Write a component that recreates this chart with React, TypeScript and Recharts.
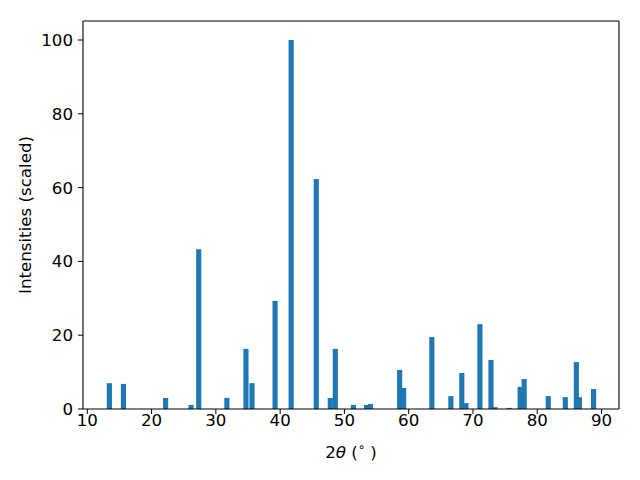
import React from 'react';
import { BarChart, Bar, XAxis, YAxis, ReferenceLine } from 'recharts';

// peak positions (2theta, degrees) and scaled intensities
const twoTheta = [
  13.47, 15.66, 22.22, 26.18, 27.37, 31.75, 34.72, 35.66, 39.25, 41.75, 45.66,
  47.84, 48.62, 51.44, 53.47, 54.09, 58.63, 59.25, 63.64, 66.6, 68.3, 68.94,
  71.12, 72.84, 73.47, 75.66, 77.38, 78.0, 81.75, 84.4, 86.12, 86.6, 88.8,
];
const intensity = [
  7.0, 6.8, 3.0, 1.1, 43.3, 3.0, 16.3, 7.0, 29.3, 100, 62.3,
  3.0, 16.3, 1.1, 1.1, 1.35, 10.6, 5.7, 19.5, 3.5, 9.75, 1.6,
  23.0, 13.3, 0.5, 0.3, 6.0, 8.1, 3.5, 3.2, 12.7, 3.2, 5.4,
];
const xTicks = [10, 20, 30, 40, 50, 60, 70, 80, 90];
const yTicks = [0, 20, 40, 60, 80, 100];

const X_DOMAIN: [number, number] = [9.33, 92.72];
const Y_DOMAIN: [number, number] = [0, 105.15];
const PLOT_W = 536;
const BAR_UNITS = 0.8;
const BAR_PX = (BAR_UNITS * PLOT_W) / (X_DOMAIN[1] - X_DOMAIN[0]);

const FONT = '"DejaVu Sans", sans-serif';
const FS = 16.67;

const data = twoTheta.map((t, i) => ({ theta: t, value: intensity[i] }));

// keep matplotlib's fixed bar width (0.8 in data units), centred on the peak
const PeakBar = (props: any) => {
  const { x, y, width, height, fill } = props;
  if (height == null || height <= 0) return null;
  const cx = x + width / 2;
  return <rect x={cx - BAR_PX / 2} y={y} width={BAR_PX} height={height} fill={fill} />;
};

const XTitle = () => (
  <text x={351} y={458} textAnchor="middle" fontFamily={FONT} fontSize={FS} fill="#000">
    <tspan>2</tspan>
    <tspan fontStyle="italic">θ</tspan>
    <tspan> (</tspan>
    <tspan fontSize={FS * 0.7} dy={-7}>∘</tspan>
    <tspan dy={7}> )</tspan>
  </text>
);

const YTitle = () => (
  <text
    x={0}
    y={0}
    transform="translate(31, 215) rotate(-90)"
    textAnchor="middle"
    fontFamily={FONT}
    fontSize={FS}
    fill="#000"
  >
    Intensities (scaled)
  </text>
);

const tickStyle = { fill: '#000', fontSize: FS, fontFamily: FONT };

export default function App() {
  return (
    <div style={{ position: 'absolute', left: 0, top: 0, width: 640, height: 480, background: '#fff' }}>
      <BarChart width={640} height={480} data={data} margin={{ top: 21, right: 21, bottom: 0, left: 0 }}>
        <XAxis
          dataKey="theta"
          type="number"
          domain={X_DOMAIN}
          allowDataOverflow
          ticks={xTicks}
          interval={0}
          height={71}
          tick={tickStyle}
          tickSize={5}
          tickMargin={0}
          stroke="#000"
          axisLine={{ stroke: '#000', strokeWidth: 1.1 }}
          tickLine={{ stroke: '#000', strokeWidth: 1 }}
          label={<XTitle />}
        />
        <YAxis
          type="number"
          domain={Y_DOMAIN}
          allowDataOverflow
          ticks={yTicks}
          interval={0}
          width={83}
          tick={tickStyle}
          tickSize={5}
          tickMargin={5}
          stroke="#000"
          axisLine={{ stroke: '#000', strokeWidth: 1.1 }}
          tickLine={{ stroke: '#000', strokeWidth: 1 }}
          label={<YTitle />}
        />
        <Bar dataKey="value" fill="#1f77b4" shape={<PeakBar />} isAnimationActive={false} />
        {/* top and right spines */}
        <ReferenceLine y={Y_DOMAIN[1]} stroke="#000" strokeWidth={1.1} ifOverflow="visible" />
        <ReferenceLine x={X_DOMAIN[1]} stroke="#000" strokeWidth={1.1} ifOverflow="visible" />
      </BarChart>
    </div>
  );
}
